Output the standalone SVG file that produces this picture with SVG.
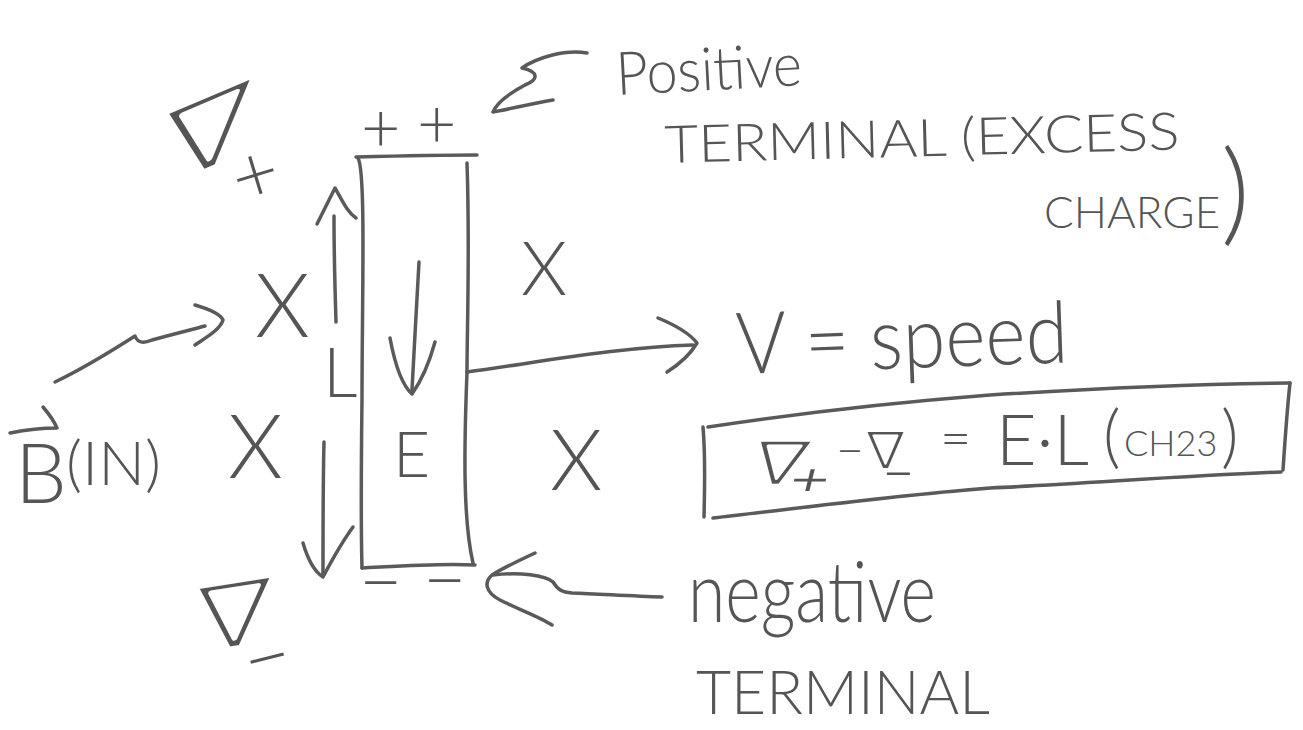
<svg xmlns="http://www.w3.org/2000/svg" width="1303" height="730" viewBox="0 0 1303 730">
<style>
.bg{fill:#ffffff}
.ln{fill:none;stroke:#5a5a5a;stroke-width:3.5;stroke-linecap:round;stroke-linejoin:round}
.hand{font-family:Lato,"Liberation Sans",sans-serif;font-weight:300;fill:#555555}
.sym{font-family:"DejaVu Sans",sans-serif;fill:#555555;stroke:#ffffff;stroke-linejoin:round}
.sub{stroke:none}
</style>
<rect class="bg" x="0" y="0" width="1303" height="730"/>

<g id="connectors">
  <!-- L up arrow -->
  <path class="ln" d="M336,322 C335,290 334,250 334,216"/>
  <path class="ln" d="M317,224 C324,210 330,198 335,188 C342,200 347,212 356,218"/>
  <!-- L down arrow -->
  <path class="ln" d="M324,442 C323,480 323,530 323,575"/>
  <path class="ln" d="M303,543 C308,560 315,572 323,577 C332,560 342,542 353,527"/>
  <!-- E arrow inside bar -->
  <path class="ln" d="M419,262 C417,300 414,350 412,390"/>
  <path class="ln" d="M390,338 C395,365 402,385 412,394 C422,380 430,360 435,342"/>
  <!-- B field pointer to X -->
  <path class="ln" d="M55,382 C80,370 110,352 135,336 C138,344 145,343 152,340 C170,335 190,330 205,326"/>
  <path class="ln" d="M195,305 C205,308 220,313 223,320 C220,330 205,338 195,345"/>
  <!-- velocity arrow -->
  <path class="ln" d="M467,372 C540,362 620,347 693,345"/>
  <path class="ln" d="M658,318 C675,325 690,334 697,343 C690,355 678,365 667,372"/>
  <!-- positive terminal pointer -->
  <path class="ln" d="M587,53 C565,49 536,58 522,68 C540,72 538,80 525,85 C510,93 497,102 493,112 C505,110 530,104 553,100"/>
  <!-- negative terminal pointer -->
  <path class="ln" d="M535,553 C520,560 503,568 492,575 C484,582 485,592 500,600 C520,610 540,617 552,625"/>
  <path class="ln" d="M493,575 C520,572 545,575 553,582 C558,590 562,592 572,593 C600,594 630,596 662,597"/>
</g>

<g id="bar">
  <path class="ln" d="M356,157 C395,156 440,155 477,155"/>
  <path class="ln" d="M358,158 C366,172 362,300 362,400 C361,480 361,530 362,568"/>
  <path class="ln" d="M362,568 C400,566 440,563 475,565"/>
  <path class="ln" d="M467,163 C470,250 467,330 467,372 C464,450 463,520 473,563"/>
  <text class="hand" x="393" y="477" font-size="64">E</text>
</g>

<g id="plus-terminal-signs">
  <text class="hand" font-size="68" y="152"><tspan x="361">+</tspan><tspan x="417" dy="-4">+</tspan></text>
</g>

<g id="minus-terminal-signs">
  <text class="hand" font-size="75" y="608"><tspan x="359">−</tspan><tspan x="423" dy="-2">−</tspan></text>
</g>

<g id="v-plus">
  <text class="sym" font-size="104" stroke-width="5" transform="translate(165,188) skewY(-23) scale(1.28,1)">∇</text>
  <text class="hand" font-size="80" transform="rotate(-17,255,175)" x="232" y="202">+</text>
</g>

<g id="v-minus">
  <text class="sym" font-size="93" stroke-width="4.5" transform="translate(196,654) skewY(-9) scale(1.24,1)">∇</text>
  <text class="hand" font-size="82" transform="rotate(-14,266,661)" x="244" y="686">−</text>
</g>

<g id="length-label">
  <text class="hand" x="323" y="397" font-size="68">L</text>
</g>

<g id="field-marks">
  <text class="hand" x="255" y="337" font-size="88">X</text>
  <text class="hand" x="521" y="295" font-size="74">X</text>
  <text class="hand" x="228" y="478" font-size="88">X</text>
  <text class="hand" x="550" y="490" font-size="84">X</text>
</g>

<g id="b-field-label">
  <path class="ln" d="M10,433 C25,430 45,428 57,428 M43,407 C49,414 54,421 57,428"/>
  <text class="hand" y="503"><tspan x="15" font-size="82">B</tspan><tspan x="66" y="485" font-size="62">(IN)</tspan></text>
</g>

<g id="positive-label">
  <text class="hand" x="617" y="95" font-size="60" textLength="186" lengthAdjust="spacingAndGlyphs" transform="rotate(-3,617,95)">Positive</text>
  <text class="hand" x="665" y="163" font-size="52" textLength="515" lengthAdjust="spacingAndGlyphs" transform="rotate(-1.5,665,163)">TERMINAL (EXCESS</text>
  <text class="hand" y="228" font-size="44"><tspan x="1044">CHARGE</tspan><tspan x="1221" y="231" font-size="112">)</tspan></text>
</g>

<g id="speed-label">
  <text class="hand" x="737" y="374" font-size="86" textLength="332" lengthAdjust="spacingAndGlyphs" transform="rotate(-2,737,374)">V = speed</text>
</g>

<g id="formula-box">
  <path class="ln" d="M708,427 C800,413 900,402 990,395 C1100,388 1200,384 1290,383"/>
  <path class="ln" d="M1290,383 C1287,410 1285,440 1283,470"/>
  <path class="ln" d="M1281,472 C1180,476 1080,484 990,488 C900,495 800,508 713,518"/>
  <path class="ln" d="M703,427 C705,450 705,480 704,517"/>
  <text class="sym" font-size="62" stroke-width="2.5" letter-spacing="-11" transform="translate(748,485) skewX(-14) scale(1.3,1)">∇<tspan class="sub" dy="6">₊</tspan></text>
  <text class="hand" x="836" y="467" font-size="48">−</text>
  <text class="sym" font-size="53" stroke-width="2" letter-spacing="-20" transform="translate(866,469) scale(1.1,1)">∇<tspan class="sub" dy="14">₋</tspan></text>
  <text class="hand" x="940" y="457" font-size="54">=</text>
  <text class="hand" x="996" y="465" font-size="70">E·L</text>
  <text class="hand" y="460" font-size="68"><tspan x="1103">(</tspan><tspan x="1124" y="456" font-size="36">CH23</tspan><tspan x="1221" y="460">)</tspan></text>
</g>

<g id="negative-label">
  <text class="hand" x="688" y="622" font-size="84" textLength="248" lengthAdjust="spacingAndGlyphs">negative</text>
  <text class="hand" x="696" y="714" font-size="62" textLength="294" lengthAdjust="spacingAndGlyphs">TERMINAL</text>
</g>
</svg>
